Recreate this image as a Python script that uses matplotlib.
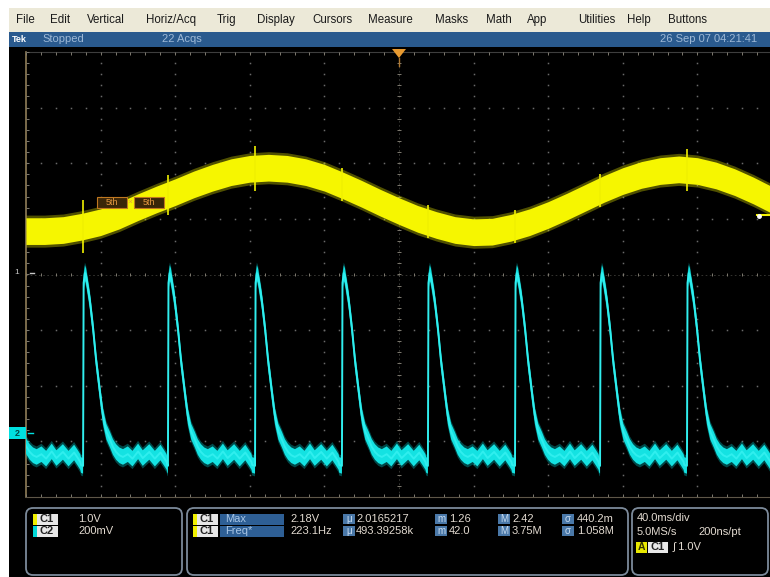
import numpy as np
import matplotlib
matplotlib.use("Agg")
import matplotlib.pyplot as plt
from matplotlib.patches import FancyBboxPatch, Rectangle, Polygon

plt.rcParams['font.family'] = ['Liberation Sans', 'DejaVu Sans']

time_per_div_ms = 40.0
ch1_volts_per_div = 1.0
ch2_mv_per_div = 200.0
ch1_ground_div = 0.0
ch2_ground_div = -2.85

# CH1 (yellow) centre of the noisy band, volts, sampled every 10 ms
ch1_t_ms = [0, 10, 20, 30, 40, 50, 60, 70, 80, 90, 100, 110, 120, 130, 140,
            150, 160, 170, 180, 190, 200, 210, 220, 230, 240, 250, 260, 270,
            280, 290, 300, 310, 320, 330, 340, 350, 360, 370, 380, 390, 400]
ch1_v = [0.78, 0.78, 0.80, 0.86, 0.94, 1.06, 1.21, 1.35, 1.48, 1.62, 1.74,
         1.84, 1.90, 1.92, 1.90, 1.84, 1.74, 1.60, 1.45, 1.29, 1.14, 1.00,
         0.89, 0.80, 0.76, 0.77, 0.84, 0.94, 1.07, 1.22, 1.38, 1.54, 1.68,
         1.79, 1.86, 1.89, 1.86, 1.78, 1.66, 1.51, 1.34]
ch1_noise_v = 0.24
# glitch spikes on CH1 at the CH2 edges (time, centre volts, half height)
ch1_spike_t = [30.6, 76.1, 122.8, 169.4, 215.5, 262.2, 307.8, 354.4]
ch1_spike_v = [0.86, 1.43, 1.91, 1.62, 0.95, 0.86, 1.51, 1.88]
ch1_spike_half = [0.48, 0.36, 0.40, 0.30, 0.30, 0.30, 0.30, 0.38]

# CH2 (cyan) rising-edge times (first one is the previous, off-screen pulse)
ch2_edges_ms = [-15.7, 30.6, 76.1, 122.8, 169.4, 215.5, 262.2, 307.8, 354.4]
# one pulse shape: offset from edge (ms) and level (mV)
pulse_dt_ms = [0.0, 0.3, 1.0, 1.6, 3.6, 5.4, 7.0, 9.1, 10.7, 12.5, 14.5, 16.0,
               17.7, 19.5, 21.4, 24.0, 26.5, 29.5, 32.0, 35.5, 38.5, 41.5,
               43.5, 44.8, 45.2]
pulse_mv = [-118, 540, 575, 565, 480, 375, 262, 145, 60, 5, -25, -50,
            -68, -80, -86, -76, -92, -66, -90, -68, -92, -70,
            -90, -104, -115]
ch2_noise_mv = 28

# ---------------- figure ----------------
W, H = 770, 577
fig = plt.figure(figsize=(W / 100, H / 100), dpi=100)
fig.patch.set_facecolor('white')

bg = fig.add_axes([0, 0, 1, 1])
bg.set_xlim(0, W)
bg.set_ylim(H, 0)
bg.axis('off')
bg.set_zorder(0)


def rect(a, x0, y0, x1, y1, color, **kw):
    a.add_patch(Rectangle((x0, y0), x1 - x0, y1 - y0, facecolor=color,
                          edgecolor='none', **kw))


# menu bar, status bar, black screen
rect(bg, 9, 8, W, 32, '#ECE9D8')
rect(bg, 9, 32, W, 47, '#2A5A8E')
rect(bg, 9, 47, W, H, 'black')

menu_items = ['File', 'Edit', 'Vertical', 'Horiz/Acq', 'Trig', 'Display',
              'Cursors', 'Measure', 'Masks', 'Math', 'App', 'Utilities',
              'Help', 'Buttons']
menu_x = [16, 50, 87, 146, 217, 257, 312, 368, 435, 486, 527, 578, 627, 668]
for name, x in zip(menu_items, menu_x):
    bg.text(x, 20, name, fontsize=8.3, color='#1a1a1a', va='center', ha='left')

bg.text(12, 39.5, 'Tek', fontsize=6.5, color='white', fontweight='bold',
        va='center')
bg.text(42, 39.5, 'Stopped', fontsize=8, color='#9DB8D6', va='center')
bg.text(162, 39.5, '22 Acqs', fontsize=8, color='#9DB8D6', va='center')
bg.text(660, 39.5, '26 Sep 07 04:21:41', fontsize=8, color='#9DB8D6',
        va='center', clip_on=True)

# ---------------- bottom readout panel ----------------
for (x0, x1) in [(26, 182), (187, 628), (632, 768)]:
    bg.add_patch(FancyBboxPatch((x0, 508), x1 - x0, 67,
                                boxstyle='round,pad=0,rounding_size=7',
                                facecolor='black', edgecolor='#7C8A9A', lw=1.3))

val_col = '#E2DAD0'


def badge(x, y, strip, label):
    rect(bg, x, y - 5.5, x + 3.5, y + 5.5, strip)
    rect(bg, x + 3.5, y - 5.5, x + 25, y + 5.5, '#E8E8E8')
    bg.text(x + 14, y + 0.5, label, fontsize=8, color='#222222', ha='center',
            va='center', fontweight='bold')


badge(33, 519, '#F0F000', 'C1')
badge(33, 531, '#00D8D8', 'C2')
bg.text(78, 519, '1.0V', fontsize=8, color=val_col, va='center')
bg.text(78, 531, '200mV', fontsize=8, color=val_col, va='center')

rows = [
    ('Max', '2.18V', '2.0165217', '1.26', '2.42', '440.2m'),
    ('Freq*', '223.1Hz', '493.39258k', '42.0', '3.75M', '1.058M'),
]
for i, (name, val, mean, mn, mx, sd) in enumerate(rows):
    y = 519 + 12 * i
    badge(193, y, '#F0F000', 'C1')
    rect(bg, 220, y - 5.5, 284, y + 5.5, '#2E5F95')
    bg.text(225, y, name, fontsize=8, color='#A8C6E6', va='center')
    bg.text(290, y, val, fontsize=8, color=val_col, va='center')
    for ix, sym, tx, txt in [(343, 'μ', 356, mean), (435, 'm', 449, mn),
                             (498, 'M', 512, mx), (562, 'σ', 577, sd)]:
        rect(bg, ix, y - 5, ix + 12, y + 5, '#4A78A8')
        bg.text(ix + 6, y, sym, fontsize=7, color='#C8DCF0', ha='center',
                va='center')
        bg.text(tx, y, txt, fontsize=8, color=val_col, va='center')

bg.text(637, 518, '40.0ms/div', fontsize=8, color=val_col, va='center')
bg.text(637, 532, '5.0MS/s', fontsize=8, color=val_col, va='center')
bg.text(698, 532, '200ns/pt', fontsize=8, color=val_col, va='center')
rect(bg, 636, 542, 647, 553, '#E8E800')
bg.text(641.5, 547.5, 'A', fontsize=7.5, color='#333300', ha='center',
        va='center', fontweight='bold')
rect(bg, 648, 542, 668, 553, '#E8E8E8')
bg.text(658, 547.5, 'C1', fontsize=8, color='#222222', ha='center',
        va='center', fontweight='bold')
bg.text(673, 547.5, '∫ 1.0V', fontsize=8, color=val_col, va='center')

# ---------------- scope screen ----------------
px_left, px_top, px_right, px_bot = 26, 52, 772, 497
ax = fig.add_axes([px_left / W, (H - px_bot) / H, (px_right - px_left) / W,
                   (px_bot - px_top) / H])
ax.set_xlim(0, 10 * time_per_div_ms)
ax.set_ylim(-4, 4)
ax.set_facecolor('none')
ax.axis('off')
ax.set_zorder(1)

grid_col = '#6A6A6A'
tick_col = '#7E7A70'
xmin_steps = np.arange(0, 400.1, time_per_div_ms / 5)
ymin_steps = np.arange(-4, 4.01, 0.2)
for k in range(1, 10):
    if k == 5:
        continue
    ax.plot(np.full_like(ymin_steps, k * time_per_div_ms), ymin_steps, ls='none',
            marker='s', ms=1.1, color=grid_col, mew=0)
for j in [-3, -2, -1, 1, 2, 3]:
    ax.plot(xmin_steps, np.full_like(xmin_steps, j), ls='none', marker='s',
            ms=1.1, color=grid_col, mew=0)
# centre cross with small ticks
ax.plot([0, 400], [0, 0], color='#3C3C38', lw=0.6, ls=(0, (2, 3)))
ax.vlines(xmin_steps, -0.035, 0.035, color=tick_col, lw=0.7)
ax.plot([200, 200], [-4, 4], color='#3C3C38', lw=0.6, ls=(0, (2, 3)))
ax.hlines(ymin_steps, 199.0, 201.0, color=tick_col, lw=0.7)
# border
ax.plot([0, 0], [-4, 4], color='#8F7D58', lw=1.2, clip_on=False)
ax.plot([0, 400], [-4, -4], color='#5E5648', lw=0.8, clip_on=False)
ax.plot([0, 400], [4, 4], color='#3E3E3E', lw=0.8, clip_on=False)
ax.vlines(xmin_steps, -4, -3.94, color=tick_col, lw=0.7)
ax.vlines(xmin_steps, 3.94, 4, color=tick_col, lw=0.7)
ax.hlines(ymin_steps, 0, 1.4, color=tick_col, lw=0.7)

# CH1 trace (yellow)
t1 = np.array(ch1_t_ms, dtype=float)
y1 = np.array(ch1_v) / ch1_volts_per_div + ch1_ground_div
n1 = ch1_noise_v / ch1_volts_per_div
ax.fill_between(t1, y1 - n1 * 1.2, y1 + n1 * 1.2, color='#E8E800',
                alpha=0.35, lw=0, zorder=3)
ax.fill_between(t1, y1 - n1, y1 + n1, color='#F6F600', lw=0, zorder=4)
sy = np.array(ch1_spike_v) / ch1_volts_per_div + ch1_ground_div
ax.vlines(ch1_spike_t, sy - np.array(ch1_spike_half),
          sy + np.array(ch1_spike_half), color='#F0F000', lw=1.2, zorder=4)

# CH2 trace (cyan)
t2 = np.concatenate([e + np.array(pulse_dt_ms) for e in ch2_edges_ms])
y2 = np.concatenate([np.array(pulse_mv, dtype=float)] * len(ch2_edges_ms))
y2 = y2 / ch2_mv_per_div + ch2_ground_div
n2 = ch2_noise_mv / ch2_mv_per_div
ax.fill_between(t2, y2 - n2 * 1.35, y2 + n2 * 1.35, color='#00D0D0',
                alpha=0.35, lw=0, zorder=3)
ax.fill_between(t2, y2 - n2, y2 + n2, color='#14E2E2', lw=0, zorder=4)
ax.plot(t2, y2, color='#30EEEE', lw=1.4, zorder=5)

# ---------------- markers around / on the screen ----------------
top = fig.add_axes([0, 0, 1, 1])
top.set_xlim(0, W)
top.set_ylim(H, 0)
top.axis('off')
top.set_facecolor('none')
top.set_zorder(2)

top.text(17, 273, '1', fontsize=6, color='#C8C8C8', va='center', ha='center')
top.plot([30, 34], [273, 273], color='#C8C8C8', lw=1)
rect(top, 9, 427, 26, 439, '#00E0E0')
top.text(17.5, 433, '2', fontsize=6.5, color='#004848', va='center',
         ha='center', fontweight='bold')
top.plot([28, 33], [433, 433], color='#00E0E0', lw=1)
top.add_patch(Polygon([[392, 49], [406, 49], [399, 58]], closed=True,
                      facecolor='#E89A30', edgecolor='none'))
top.plot([399, 399], [58, 66], color='#B07830', lw=1)
top.plot([757, 770], [215, 215], color='#F4F400', lw=1.5)
top.plot([759], [216], marker='o', ms=2.5, color='white')

# small orange zone labels on the screen
for x0 in (97, 134):
    top.add_patch(Rectangle((x0, 197), 30, 11, facecolor='#3A2608',
                            edgecolor='#C07820', lw=0.8))
    top.text(x0 + 15, 202.5, '5th', fontsize=6.5, color='#E89A40',
             ha='center', va='center')
top.text(130, 202, '×', fontsize=6, color='#E89A40', ha='center', va='center')

fig.savefig('out.png', dpi=100, facecolor=fig.get_facecolor())
